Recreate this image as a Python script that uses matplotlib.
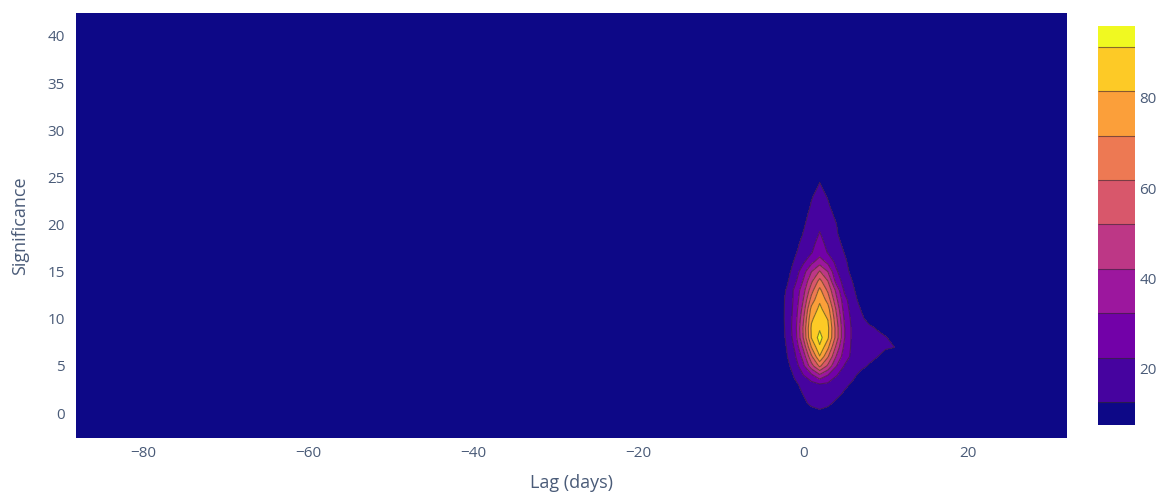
import numpy as np
import matplotlib
matplotlib.use("Agg")
import matplotlib.pyplot as plt
from matplotlib.colors import ListedColormap, BoundaryNorm

# ---------------- data ----------------
lag_days = [-4, -3, -2, -1, 0, 1, 2, 3, 4, 5, 6, 7, 8, 9, 10, 11, 12]
significance = list(range(-1, 28))

# density values on the (significance row, lag column) grid
density = [
    [0, 0, 0, 0, 0, 0, 0, 0, 0, 0, 0, 0, 0, 0, 0, 0, 0],            # -1
    [0, 0, 0, 0, 0, 7, 10, 8, 4, 0, 0, 0, 0, 0, 0, 0, 0],           # 0
    [0, 0, 0, 3, 10, 15, 17, 15, 10, 4, 0, 0, 0, 0, 0, 0, 0],       # 1
    [0, 0, 0, 8, 13, 17, 19, 18, 16, 11, 5, 0, 0, 0, 0, 0, 0],      # 2
    [0, 0, 3, 11, 15, 18.5, 21, 20, 18, 15, 11, 5, 0, 0, 0, 0, 0],  # 3
    [0, 2, 8, 14, 22, 30, 40, 32, 23, 19, 15, 10, 4, 0, 0, 0, 0],   # 4
    [0, 4, 10, 17, 30, 48, 64, 50, 33, 22, 18, 15, 12, 4, 0, 0, 0], # 5
    [0, 5, 12, 21, 36, 60, 81, 63, 42, 27, 20, 17, 15, 13, 7, 2, 0],            # 6
    [0, 6, 13, 24, 44, 72, 90, 74, 50, 30, 20, 17.5, 16.5, 15.5, 14.5, 13, 4],  # 7
    [0, 6, 14, 27, 52, 82, 95, 83, 58, 33, 20, 17, 16, 15, 13.5, 9, 2],         # 8
    [0, 7, 14.5, 28, 53, 83, 90, 84, 58, 33, 20, 16, 14.5, 12, 6, 1, 0],        # 9
    [0, 7, 15, 27, 50, 80, 87, 81, 55, 31, 19, 14.5, 10, 4, 0, 0, 0],  # 10
    [0, 7, 14.8, 26, 46, 75, 84, 76, 51, 28, 18, 12.5, 6, 0, 0, 0, 0], # 11
    [0, 6.5, 14.5, 25, 42, 66, 80, 68, 45, 26, 16, 10, 3, 0, 0, 0, 0], # 12
    [0, 5, 13.5, 25, 38, 58, 74.5, 60, 40, 21, 14.5, 7, 1, 0, 0, 0, 0],  # 13
    [0, 4, 11, 20, 33, 50, 65, 52, 29, 18, 12.5, 5, 0, 0, 0, 0, 0],    # 14
    [0, 2, 9, 17, 28, 42, 53, 42, 24, 16, 10, 3, 0, 0, 0, 0, 0],       # 15
    [0, 0, 7, 14, 21, 30, 38, 30, 20, 15, 8, 1, 0, 0, 0, 0, 0],        # 16
    [0, 0, 5, 11.5, 17, 22, 28, 22, 17, 12.5, 6, 0, 0, 0, 0, 0, 0],    # 17
    [0, 0, 3, 10, 15, 20, 25.5, 20, 15, 11, 4, 0, 0, 0, 0, 0, 0],      # 18
    [0, 0, 1, 7, 13, 18, 23, 18.5, 14, 8, 2, 0, 0, 0, 0, 0, 0],        # 19
    [0, 0, 0, 5, 11.5, 16.5, 21, 17, 13, 6, 0, 0, 0, 0, 0, 0, 0],      # 20
    [0, 0, 0, 3, 10, 15, 19, 16, 11, 4, 0, 0, 0, 0, 0, 0, 0],          # 21
    [0, 0, 0, 1, 7, 13.5, 17.5, 14, 8, 2, 0, 0, 0, 0, 0, 0, 0],        # 22
    [0, 0, 0, 0, 4, 12, 15.5, 12, 5, 0, 0, 0, 0, 0, 0, 0, 0],          # 23
    [0, 0, 0, 0, 1, 9, 13.8, 9.5, 2, 0, 0, 0, 0, 0, 0, 0, 0],          # 24
    [0, 0, 0, 0, 0, 6, 11.5, 6, 0, 0, 0, 0, 0, 0, 0, 0, 0],            # 25
    [0, 0, 0, 0, 0, 1, 5, 1, 0, 0, 0, 0, 0, 0, 0, 0, 0],               # 26
    [0, 0, 0, 0, 0, 0, 0, 0, 0, 0, 0, 0, 0, 0, 0, 0, 0],               # 27
]

contour_levels = [12.7, 22.5, 32.4, 42.2, 52.0, 61.8, 71.6, 81.5, 91.3]
z_low, z_high = 7.6, 95.9
band_colors = ["#0d0887", "#46039f", "#7201a8", "#9c179e", "#bd3786",
               "#d8576b", "#ed7953", "#fb9f3a", "#fdca26", "#f0f921"]

x_range = (-88.2, 32.0)
y_range = (-2.65, 42.44)
x_ticks = [-80, -60, -40, -20, 0, 20]
y_ticks = [0, 5, 10, 15, 20, 25, 30, 35, 40]
cbar_ticks = [20, 40, 60, 80]
x_title = "Lag (days)"
y_title = "Significance"

# ---------------- figure ----------------
plt.rcParams["font.family"] = ["Open Sans", "DejaVu Sans"]
text_color = "#4a5b78"
tick_size = 11
title_size = 13

W, H = 1160, 492
fig = plt.figure(figsize=(W / 100, H / 100), dpi=100)
L, R, T, B = 76, 1067, 13, 438
ax = fig.add_axes([L / W, (H - B) / H, (R - L) / W, (B - T) / H])
ax.set_facecolor(band_colors[0])

Z = np.clip(np.array(density, dtype=float), z_low, z_high)
bounds = [z_low] + contour_levels + [z_high]
cmap = ListedColormap(band_colors)
norm = BoundaryNorm(bounds, cmap.N)

cf = ax.contourf(lag_days, significance, Z, levels=bounds, cmap=cmap, norm=norm)
cl = ax.contour(lag_days, significance, Z, levels=contour_levels,
                colors="#3a2a2a", linewidths=0.8, alpha=0.6)

ax.set_xlim(*x_range)
ax.set_ylim(*y_range)
ax.set_xticks(x_ticks)
ax.set_yticks(y_ticks)
for s in ax.spines.values():
    s.set_visible(False)
ax.tick_params(axis="both", length=0, labelsize=tick_size, labelcolor=text_color)
ax.tick_params(axis="x", pad=6)
ax.tick_params(axis="y", pad=8)

ax.set_xlabel(x_title, fontsize=title_size, color=text_color, va="center")
ax.xaxis.set_label_coords(0.5, -(483 - B) / (B - T))
ax.set_ylabel(y_title, fontsize=title_size, color=text_color, va="center")
ax.yaxis.set_label_coords(-(L - 20) / (R - L), 0.5)

# colorbar
cb_l, cb_r, cb_t, cb_b = 1098, 1135, 26, 425
cax = fig.add_axes([cb_l / W, (H - cb_b) / H, (cb_r - cb_l) / W, (cb_b - cb_t) / H])
cb = fig.colorbar(cf, cax=cax, ticks=cbar_ticks, spacing="proportional")
cb.add_lines(cl)
cb.outline.set_visible(False)
cb.ax.minorticks_off()
cb.ax.tick_params(which="both", length=0, labelsize=tick_size,
                  labelcolor=text_color, pad=3)

fig.savefig("out.png", dpi=100)
